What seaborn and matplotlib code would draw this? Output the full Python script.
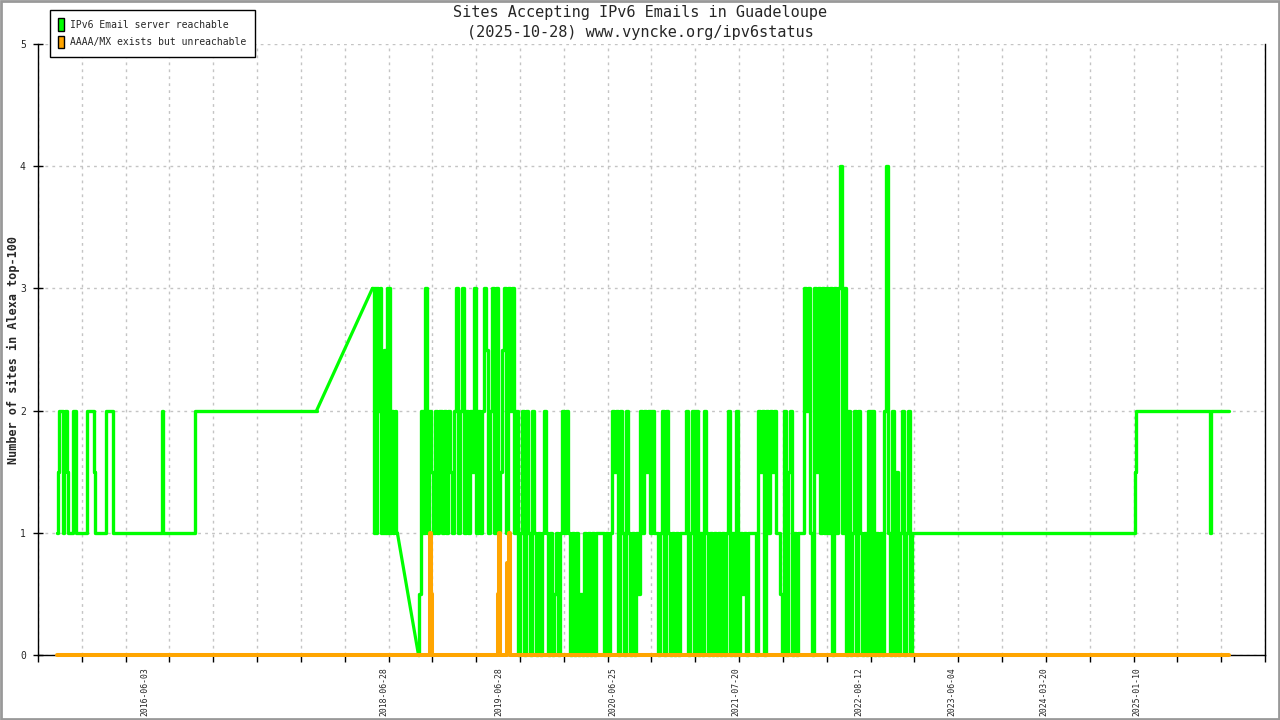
import numpy as np
import pandas as pd
import matplotlib
matplotlib.use('Agg')
import matplotlib.pyplot as plt
import matplotlib.dates as mdates
from matplotlib.patches import Patch, Rectangle
import seaborn as sns

# --- values ---
# quiet early period (explicit points)
early_dates = ['2015-08-29', '2015-09-01', '2015-09-05', '2015-09-12', '2015-09-15',
               '2015-09-17', '2015-09-20', '2015-09-23', '2015-09-27', '2015-09-30',
               '2015-10-03', '2015-10-16', '2015-10-19', '2015-10-24', '2015-10-27',
               '2015-11-29', '2015-12-02', '2015-12-21', '2015-12-24', '2015-12-28',
               '2016-01-28', '2016-01-31', '2016-02-19', '2016-02-23', '2016-07-24',
               '2016-07-27', '2016-07-30', '2016-11-06', '2016-11-09', '2017-11-28']
early_vals = [1, 1.5, 2, 2, 1.5,
              1, 1.5, 2, 2, 1.5,
              1, 1, 2, 2, 1,
              1, 2, 2, 1.5, 1,
              1, 2, 2, 1, 1,
              2, 1, 1, 2, 2]

# noisy bursts: sampled evenly between start and end date
burst_a_span = ('2018-05-24', '2018-08-11')
burst_a_vals = [3, 1, 3, 1, 3, 2, 3, 1, 2, 1, 2.5, 1, 3, 1, 3, 1, 2, 1, 1.5, 2, 1, 1]

gap_dates = ['2018-10-17']
gap_vals = [0]

burst_b_span = ('2018-10-20', '2019-08-02')
burst_b_vals = [0.5, 2, 1, 3, 1, 2, 1.5, 1, 2, 1,
                2, 1, 2, 1, 2, 1.5, 1, 2, 3, 1,
                2, 3, 1, 2, 1, 2, 1.5, 3, 1, 2,
                1, 2, 3, 2.5, 1, 2, 3, 1, 3, 1,
                1.5, 2.5, 3, 1, 3, 2]

burst_c1_span = ('2019-08-08', '2020-06-14')
burst_c1_vals = [3, 1, 2, 0, 1, 2, 0, 2, 1, 0,
                 2, 1, 0, 1, 0, 1, 2, 1, 0, 1,
                 0, 0.5, 1, 0, 1, 2, 1, 2, 1, 0,
                 1, 0, 1, 0, 0.5, 0, 1, 0, 1, 0,
                 1, 0, 1, 1, 1, 1, 0, 1, 0, 1]

burst_c2_span = ('2020-06-20', '2021-04-27')
burst_c2_vals = [2, 1.5, 2, 0, 2, 1, 0, 2, 1, 0,
                 1, 0, 1, 0.5, 2, 1, 2, 1.5, 2, 1,
                 2, 1, 1, 0, 1, 2, 0, 2, 1, 0,
                 1, 0, 1, 0, 1, 1, 1, 2, 0, 1,
                 2, 0, 2, 0, 1, 0, 2, 1, 0, 1]

burst_c3_span = ('2021-05-03', '2022-03-10')
burst_c3_vals = [0, 1, 0, 1, 0, 1, 0, 1, 2, 0,
                 1, 0, 2, 0, 1, 0.5, 1, 0, 1, 1,
                 1, 1, 0, 2, 1.5, 2, 0, 2, 1, 2,
                 1.5, 2, 1, 1, 0.5, 0, 2, 0, 1.5, 2,
                 0, 1, 0, 1, 1, 1, 3, 2, 3, 1]

burst_c4_span = ('2022-03-16', '2023-01-27')
burst_c4_vals = [0, 3, 1.5, 3, 1, 3, 1, 3, 1, 3,
                 0, 3, 1, 3, 4, 1, 3, 0, 2, 0,
                 1, 2, 0, 2, 1, 0, 1, 0, 2, 0,
                 2, 0, 1, 0, 1, 0, 2, 4, 1, 0,
                 2, 0, 1.5, 0, 1, 2, 0, 1, 2, 0,
                 1]

late_dates = ['2025-01-03', '2025-01-05', '2025-01-08', '2025-08-27',
              '2025-08-29', '2025-08-31', '2025-09-02', '2025-10-28']
late_vals = [1, 1.5, 2, 2, 1.5, 1, 2, 2]

# AAAA/MX exists but unreachable
unreach_dates = ['2015-08-29', '2018-11-20', '2018-11-23', '2018-11-27', '2018-11-29',
                 '2019-06-22', '2019-06-25', '2019-06-28', '2019-07-03', '2019-07-20',
                 '2019-07-23', '2019-07-26', '2019-07-30', '2019-08-02', '2025-10-28']
unreach_vals = [0, 0, 1, 0.5, 0,
                0, 0.5, 1, 0, 0,
                0.25, 0.75, 1, 0, 0]

label_dates = ['2016-06-03', '2018-06-28', '2019-06-28', '2020-06-25', '2021-07-20',
               '2022-08-12', '2023-06-04', '2024-03-20', '2025-01-10']


def points(dates, vals, unit=0):
    return pd.DataFrame({'date': pd.to_datetime(dates), 'sites': vals, 'unit': unit})


def burst(span, vals, unit=0):
    return pd.DataFrame({'date': pd.date_range(span[0], span[1], periods=len(vals)),
                         'sites': vals, 'unit': unit})


# day-by-day parts (drawn as steps, gnuplot-like vertical transitions)
reach = pd.concat([
    points(early_dates, early_vals, 0),
    burst(burst_a_span, burst_a_vals, 1),
    points(gap_dates, gap_vals, 2),
    burst(burst_b_span, burst_b_vals, 2),
    burst(burst_c1_span, burst_c1_vals, 2),
    burst(burst_c2_span, burst_c2_vals, 2),
    burst(burst_c3_span, burst_c3_vals, 2),
    burst(burst_c4_span, burst_c4_vals, 2),
    points(late_dates, late_vals, 2),
], ignore_index=True)

# the two gaps in the record are bridged by straight lines
links = pd.concat([
    pd.concat([points(early_dates[-1:], early_vals[-1:], 0),
               points(burst_a_span[:1], burst_a_vals[:1], 0)]),
    pd.concat([points(burst_a_span[1:], burst_a_vals[-1:], 1),
               points(gap_dates, gap_vals, 1)]),
], ignore_index=True)

unreach = points(unreach_dates, unreach_vals)

GREEN = '#00ff00'
ORANGE = '#ffa500'

sns.set_style('white')
plt.rcParams['font.family'] = ['DejaVu Sans Mono', 'DejaVu Sans']

fig = plt.figure(figsize=(12.8, 7.2), dpi=100)
ax = fig.add_axes([38 / 1280, 1 - 655 / 720, (1265 - 38) / 1280, (655 - 44) / 720])

sns.lineplot(data=reach, x='date', y='sites', units='unit', estimator=None,
             color=GREEN, linewidth=2.4, drawstyle='steps-post', ax=ax, zorder=3)
sns.lineplot(data=links, x='date', y='sites', units='unit', estimator=None,
             color=GREEN, linewidth=2.3, ax=ax, zorder=3)
sns.lineplot(data=unreach, x='date', y='sites', estimator=None,
             color=ORANGE, linewidth=2.9, drawstyle='steps-post', ax=ax, zorder=4)
for line in ax.get_lines():
    line.set_clip_on(False)

# axes limits
x0, x1 = pd.Timestamp('2015-06-29'), pd.Timestamp('2026-02-20')
ax.set_xlim(x0, x1)
ax.set_ylim(0, 5)

# evenly spaced tick marks + grid, dated labels without marks
n0, n1 = mdates.date2num(x0), mdates.date2num(x1)
ax.set_xticks(np.linspace(n0, n1, 29), minor=True)
ax.set_xticks(mdates.date2num(pd.to_datetime(label_dates)))
ax.set_xticklabels(label_dates, rotation=90, fontsize=5.9, va='top', ha='center')
ax.tick_params(axis='x', which='major', length=0, pad=8.5)
ax.tick_params(axis='x', which='minor', length=5, width=1, direction='out',
               color='black', bottom=True)
ax.set_yticks(range(6))
ax.set_yticklabels([str(v) for v in range(6)], fontsize=7)
ax.tick_params(axis='y', which='major', length=7.5, width=1, direction='inout', pad=5,
               color='black', left=True)

ax.grid(False)
ax.grid(True, which='minor', axis='x', color='#c4c4c4', linestyle=(0, (2, 3)), linewidth=1)
ax.grid(True, which='major', axis='y', color='#c4c4c4', linestyle=(0, (2, 3)), linewidth=1)
ax.set_axisbelow(True)

for side in ['left', 'bottom', 'right']:
    ax.spines[side].set_color('black')
    ax.spines[side].set_linewidth(1)
ax.spines['top'].set_visible(False)

ax.set_xlabel('')
ax.set_ylabel('Number of sites in Alexa top-100', fontsize=8.5, fontweight='bold',
              va='center')
ax.yaxis.set_label_coords(-25 / 1227, 0.5)

fig.text(0.5, 1 - 13 / 720, 'Sites Accepting IPv6 Emails in Guadeloupe',
         ha='center', va='center', fontsize=11)
fig.text(0.5, 1 - 32 / 720, '(2025-10-28) www.vyncke.org/ipv6status',
         ha='center', va='center', fontsize=11)

handles = [Patch(facecolor=GREEN, edgecolor='black', linewidth=1),
           Patch(facecolor=ORANGE, edgecolor='black', linewidth=1)]
leg = ax.legend(handles, ['IPv6 Email server reachable', 'AAAA/MX exists but unreachable'],
                loc='upper left', bbox_to_anchor=(50 / 1280, 1 - 10 / 720),
                bbox_transform=fig.transFigure, borderaxespad=0, fontsize=7.05,
                handlelength=0.6, handleheight=1.55, handletextpad=0.6,
                labelspacing=0.55, borderpad=0.85, fancybox=False, framealpha=1)
leg.get_frame().set_edgecolor('black')
leg.get_frame().set_linewidth(1)

fig.patches.append(Rectangle((0.001, 0.001), 0.998, 0.997, transform=fig.transFigure,
                             fill=False, edgecolor='#999999', linewidth=2))

fig.savefig('out.png', dpi=100)
